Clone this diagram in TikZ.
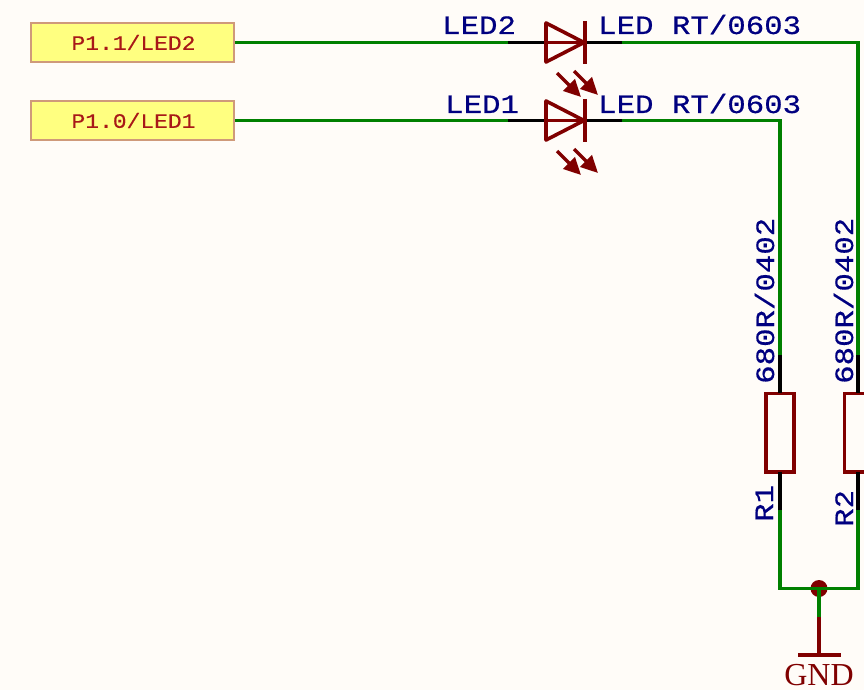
\documentclass[tikz,border=0pt]{standalone}
\usepackage{fontspec}
\setmainfont{Liberation Serif}
\newfontfamily\desfont[FakeStretch=1.16,FakeBold=0.5]{Liberation Mono}
\newfontfamily\portfont[FakeStretch=1.12,FakeBold=0.2]{Liberation Mono}
\usetikzlibrary{arrows.meta}
\definecolor{bgc}{HTML}{FFFCF8}
\definecolor{wirec}{HTML}{008000}
\definecolor{symc}{HTML}{800000}
\definecolor{txtc}{HTML}{000080}
\definecolor{portfill}{HTML}{FFFF80}
\definecolor{portedge}{HTML}{CF9A7A}
\definecolor{porttext}{HTML}{A81818}
\tikzset{
  x=1pt,y=-1pt,
  portbox/.style={draw=portedge,fill=portfill,line width=1.6pt,minimum width=203pt,minimum height=39pt,inner sep=0pt,
    font=\portfont\fontsize{20.5}{20.5}\selectfont,text=porttext},
  wire/.style={draw=wirec,line width=3.6pt},
  lead/.style={draw=black,line width=3.6pt},
  sym/.style={draw=symc,line width=3.6pt},
  lightarrow/.style={draw=symc,line width=3.4pt,-{Triangle[length=17pt,width=16pt,fill=symc]}},
  lbl/.style={text=txtc,inner sep=0pt,font=\desfont\fontsize{26.5}{26.5}\selectfont},
}
\begin{document}
\begin{tikzpicture}
\useasboundingbox[fill=bgc] (0,0) rectangle (864,690);
\node[portbox] (p2) at (132.5,42.5) {\hspace{2pt}P1.1/LED2};
\node[portbox] (p1) at (132.5,120.5) {\hspace{2pt}P1.0/LED1};
% LED2
\coordinate (d2a) at (508,42.5); \coordinate (d2k) at (622,42.5);
\coordinate (d2t) at (584,42.5);
\coordinate (c2) at (858,42.5);
\coordinate (r2t) at (858,355); \coordinate (r2b) at (858,510);
% LED1
\coordinate (d1a) at (508,120.5); \coordinate (d1k) at (622,120.5);
\coordinate (d1t) at (584,120.5);
\coordinate (c1) at (780,120.5);
\coordinate (r1t) at (780,355); \coordinate (r1b) at (780,510);
% bus
\coordinate (bl) at (780,588.5); \coordinate (br) at (858,588.5);
\coordinate (j) at (819,588.5);
\coordinate (gs) at (819,617); \coordinate (gb) at (819,655);
% wires
\draw[wire] (p2.east) -- (d2a);
\draw[wire] (p1.east) -- (d1a);
\draw[wire] (d2k) -- (c2) -- (r2t);
\draw[wire] (d1k) -- (c1) -- (r1t);
\fill[symc] (j) circle (8.5);
\draw[wire] (r1b) -- (bl) -- (br) -- (r2b);
\draw[wire] (j) -- (gs);
% leads
\draw[lead] (d2a) -- (d2k);
\draw[lead] (d1a) -- (d1k);
\draw[lead] (r1t) -- (r1b);
\draw[lead] (r2t) -- (r2b);
% diodes
\draw[sym,line join=round] (546,23) -- (d2t) -- (546,62) -- cycle;
\draw[sym] (585,21) -- (585,64);
\draw[sym] (546,42.5) -- (d2t);
\draw[sym,line join=round] (546,101) -- (d1t) -- (546,140) -- cycle;
\draw[sym] (585,99) -- (585,142);
\draw[sym] (546,120.5) -- (d1t);
% light arrows
\draw[lightarrow] (557,73) -- (581,97);
\draw[lightarrow] (574,71) -- (598,95);
\draw[lightarrow] (557,151) -- (581,175);
\draw[lightarrow] (574,149) -- (598,173);
% resistors
\draw[sym,fill=bgc] (766,393.5) rectangle (794,472);
\draw[sym,fill=bgc] (844.5,393.5) rectangle (880,472);
\draw[lead] (r1t) -- (780,393);
\draw[lead] (r1b) -- (780,472);
\draw[lead] (r2t) -- (858,393);
\draw[lead] (r2b) -- (858,472);
% gnd
\draw[sym] (gs) -- (gb);
\draw[sym] (798,655) -- (841,655);
\node[text=symc,inner sep=0pt,font=\fontsize{32}{32}\selectfont,anchor=base] (gnd) at (819,685) {GND};
% labels
\node[lbl,anchor=base west] (l2) at (442,34) {LED2};
\node[lbl,anchor=base west] (l1) at (445,113) {LED1};
\node[lbl,anchor=base west] (v2) at (598,34) {LED RT/0603};
\node[lbl,anchor=base west] (v1) at (598,113) {LED RT/0603};
\node[lbl,anchor=base west,rotate=90] (rv1) at (774,384) {680R/0402};
\node[lbl,anchor=base west,rotate=90] (rv2) at (853,384) {680R/0402};
\node[lbl,anchor=base west,rotate=90] (rn1) at (773,522) {R1};
\node[lbl,anchor=base west,rotate=90] (rn2) at (853,527) {R2};
\end{tikzpicture}
\end{document}
